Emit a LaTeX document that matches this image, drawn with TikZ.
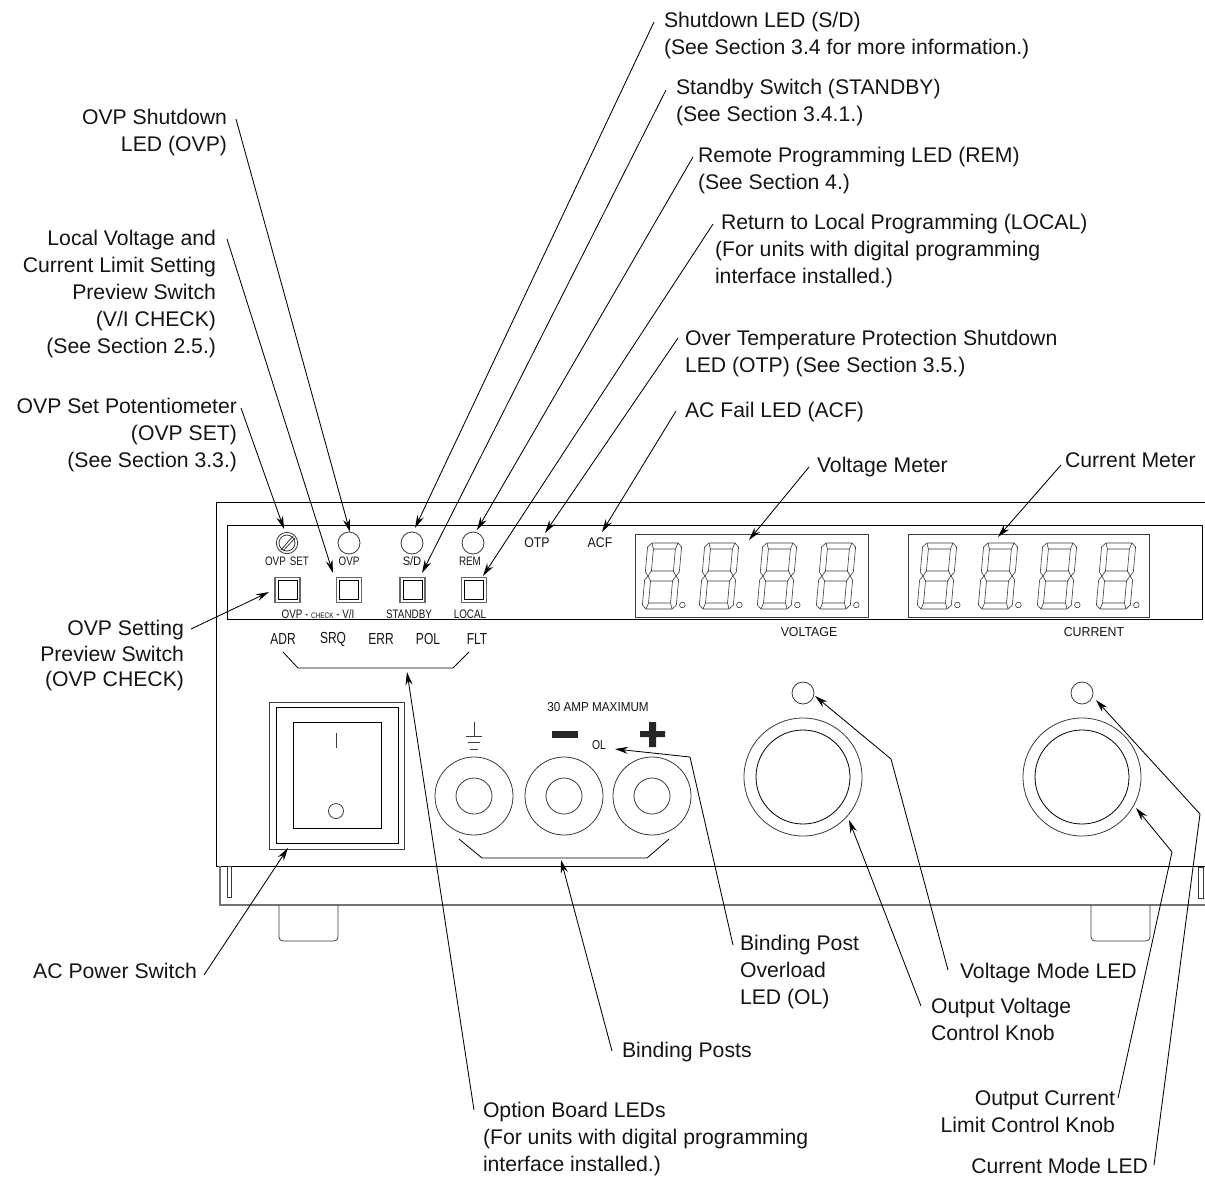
\documentclass[tikz,border=0pt]{standalone}
\usepackage{fontspec}
\usepackage{graphicx}
\setmainfont{Liberation Sans}
\usetikzlibrary{arrows.meta}
\definecolor{ink}{HTML}{151515}
\definecolor{pen}{HTML}{3A3A3A}
\newcommand{\narrowtxt}[2]{\scalebox{#1}[1]{#2}}
\tikzset{
  lab/.style={inner sep=0pt,outer sep=0pt,text=ink,font=\fontsize{21.2}{27}\selectfont},
  labl/.style={lab,anchor=north west,align=left},
  labr/.style={lab,anchor=north east,align=right},
  tiny/.style={inner sep=0pt,text=ink,font=\fontsize{12.3}{12}\selectfont},
  opt/.style={inner sep=0pt,text=ink,font=\fontsize{16}{16}\selectfont},
  part/.style={draw=pen,line width=.8pt},
  dark/.style={draw=black,line width=.8pt},
  lead/.style={draw=black,line width=.85pt},
  arrow/.style={lead,-{Stealth[length=13pt,width=7pt]}},
  ledc/.style={part,circle,minimum size=22pt,inner sep=0pt},
  seg/.style={draw=pen,line width=.6pt},
}
\newcommand{\sevenseg}[2]{%
  \begin{scope}[shift={(#1,#2)},xslant=.09]
    \draw[seg] (4,0) -- (30,0) -- (34,-4) -- (34,-29) -- (31,-33) -- (34,-37) -- (34,-62) -- (30,-66) -- (4,-66) -- (0,-62) -- (0,-37) -- (3,-33) -- (0,-29) -- (0,-4) -- cycle;
    \draw[seg] (6,-6) rectangle (28,-28);
    \draw[seg] (6,-38) rectangle (28,-60);
    \draw[seg] (4,0) -- (6,-6) (30,0) -- (28,-6) (4,-66) -- (6,-60) (30,-66) -- (28,-60);
    \draw[seg] (3,-33) -- (6,-28) (3,-33) -- (6,-38) (31,-33) -- (28,-28) (31,-33) -- (28,-38);
    \draw[seg] (40,-4) circle (2.8);
  \end{scope}}
\begin{document}
\begin{tikzpicture}[x=1pt,y=-1pt]
\useasboundingbox (0,0) rectangle (1205,1178);
% --- chassis
\draw[dark] (1205,502) -- (216,502) -- (216,866) -- (1205,866);
\draw[part,line width=1.1pt,draw=black!55] (220,866) -- (220,905) -- (1205,905);
\draw[part] (227,866) rectangle (231,897);
\draw[part] (1198,867) rectangle (1203,898);
\draw[part,rounded corners=4pt] (279,905) -- (279,941) -- (338,941) -- (338,905);
\draw[part,rounded corners=4pt] (1091,905) -- (1091,941) -- (1150,941) -- (1150,905);
\draw[dark] (227,525) rectangle (1202,619);
% --- controls in the display panel
\node[part,circle,minimum size=21.4pt,inner sep=0pt] (pot) at (287,543) {};
\node[part,circle,minimum size=16pt,inner sep=0pt] (potin) at (287,543) {};
\draw[part] (281,550) -- (293,536);
\draw[part] (283,551) -- (295,538);
\node[ledc] (ovpled) at (349,543) {};
\node[ledc] (sdled) at (412,543) {};
\node[ledc] (remled) at (473,543) {};
\foreach \n/\x in {swa/287.5,swb/349,swc/412.5,swd/474}{
  \node[draw=black!60,line width=1.5pt,minimum width=25pt,minimum height=25pt,inner sep=0pt] (\n) at (\x,590) {};
  \node[dark,draw,minimum width=19pt,minimum height=19pt,inner sep=0pt] (\n i) at (\x,590) {};
}
\node[tiny] (tovpset) at (287,561) {\narrowtxt{.8}{OVP\hspace{5pt}SET}};
\node[tiny] (tovp) at (349,561) {\narrowtxt{.8}{OVP}};
\node[tiny] (tsd) at (412,561) {\narrowtxt{.9}{S/D}};
\node[tiny] (trem) at (470,561) {\narrowtxt{.8}{REM}};
\node[tiny] (tcheck) at (318,614) {\narrowtxt{.8}{OVP - {\fontsize{8}{8}\selectfont CHECK} - V/I}};
\node[tiny] (tstandby) at (409,614) {\narrowtxt{.8}{STANDBY}};
\node[tiny] (tlocal) at (470,614) {\narrowtxt{.8}{LOCAL}};
\node[inner sep=0pt,text=ink,font=\fontsize{14}{14}\selectfont] (totp) at (537,543) {\narrowtxt{.88}{OTP}};
\node[inner sep=0pt,text=ink,font=\fontsize{14}{14}\selectfont] (tacf) at (600,543) {\narrowtxt{.88}{ACF}};
% --- meters
\draw[part] (635,534) rectangle (868,617);
\draw[part] (908,534) rectangle (1149,617);
\foreach \x in {642,699,757,816,917,978,1037,1096}{\sevenseg{\x}{609}}
\node[inner sep=0pt,text=ink,font=\fontsize{13}{13}\selectfont] (tvolt) at (809,632) {\narrowtxt{.95}{VOLTAGE}};
\node[inner sep=0pt,text=ink,font=\fontsize{13}{13}\selectfont] (tcurr) at (1094,632) {\narrowtxt{.95}{CURRENT}};
% --- option LEDs
\node[opt] (tadr) at (283,639) {\narrowtxt{.75}{ADR}};
\node[opt] (tsrq) at (333,639) {\narrowtxt{.75}{SRQ}};
\node[opt] (terr) at (381,639) {\narrowtxt{.75}{ERR}};
\node[opt] (tpol) at (428,639) {\narrowtxt{.75}{POL}};
\node[opt] (tflt) at (477,639) {\narrowtxt{.75}{FLT}};
\draw[dark] (283,652) -- (298,668) -- (453,668) -- (469,652);
% --- power switch
\draw[part] (269,702) rectangle (404,849);
\draw[dark] (276,707) rectangle (398,843);
\draw[dark] (293,722) rectangle (381,828);
\draw[part] (336,733) -- (336,748);
\node[part,circle,minimum size=15pt,inner sep=0pt] (pwro) at (336,811) {};
% --- binding posts
\foreach \n/\x in {pa/474,pb/564,pc/652}{
  \node[part,circle,minimum size=78pt,inner sep=0pt] (\n) at (\x,796) {};
  \node[part,circle,minimum size=36pt,inner sep=0pt] (\n i) at (\x,796) {};
}
\draw[part] (474,722) -- (474,736) (466,736) -- (482,736) (468,742) -- (480,742) (470,749) -- (478,749);
\fill[black!85] (552,731) rectangle (578,738);
\fill[black!85] (640,731) rectangle (665,737) (649,722) rectangle (656,747);
\node[inner sep=0pt,text=ink,font=\fontsize{13}{13}\selectfont] (tamp) at (598,707) {\narrowtxt{.9}{30 AMP MAXIMUM}};
\node[inner sep=0pt,text=ink,font=\fontsize{13}{13}\selectfont] (tol) at (599,745) {\narrowtxt{.8}{OL}};
\draw[dark] (459,839) -- (482,858) -- (647,858) -- (669,839);
% --- knobs
\foreach \n/\x in {ka/803,kb/1082}{
  \node[part,circle,minimum size=118pt,inner sep=0pt] (\n) at (\x,777) {};
  \node[dark,draw,circle,minimum size=94pt,inner sep=0pt] (\n i) at (\x,777) {};
  \node[part,circle,minimum size=22pt,inner sep=0pt] (\n l) at (\x,693) {};
}
% --- labels
\node[labl] (lsd) at (664,9) {\strut Shutdown LED (S/D)\\\strut (See Section 3.4 for more information.)};
\node[labl] (lsb) at (676,76) {\strut Standby Switch (STANDBY)\\\strut (See Section 3.4.1.)};
\node[labl] (lrem) at (698,144) {\strut Remote Programming LED (REM)\\\strut (See Section 4.)};
\node[labl] (lloc) at (715,211) {\strut\hspace*{6pt}Return to Local Programming (LOCAL)\\\strut (For units with digital programming\\\strut interface installed.)};
\node[labl] (lotp) at (685,327) {\strut Over Temperature Protection Shutdown\\\strut LED (OTP) (See Section 3.5.)};
\node[labl] (lacf) at (685,399) {\strut AC Fail LED (ACF)};
\node[labl] (lvm) at (817,454) {\strut Voltage Meter};
\node[labl] (lcm) at (1065,449) {\strut Current Meter};
\node[labr] (lovp) at (227,106) {\strut OVP Shutdown\\\strut LED (OVP)};
\node[labr] (lvi) at (216,227) {\strut Local Voltage and\\\strut Current Limit Setting\\\strut Preview Switch\\\strut (V/I CHECK)\\\strut (See Section 2.5.)};
\node[labr] (lset) at (237,395) {\strut OVP Set Potentiometer\\\strut (OVP SET)\\\strut (See Section 3.3.)};
\node[labr,font=\fontsize{21.2}{25.5}\selectfont] (lchk) at (184,618) {\strut OVP Setting\\\strut Preview Switch\\\strut (OVP CHECK)};
\node[labr] (lac) at (197,960) {\strut AC Power Switch};
\node[labl] (lbo) at (740,932) {\strut Binding Post\\\strut Overload\\\strut LED (OL)};
\node[labl] (lvmode) at (960,960) {\strut Voltage Mode LED};
\node[labl] (lokn) at (931,995) {\strut Output Voltage\\\strut Control Knob};
\node[labl] (lbp) at (622,1039) {\strut Binding Posts};
\node[labl] (lopt) at (483,1099) {\strut Option Board LEDs\\\strut (For units with digital programming\\\strut interface installed.)};
\node[labr] (lcur) at (1115,1087) {\strut Output Current\\\strut Limit Control Knob};
\node[labr] (lcmode) at (1148,1155) {\strut Current Mode LED};
% --- leader ends
\foreach \n/\p in {
  asd/{654,22},tsdl/{415,528},
  asb/{666,90},tsb/{422,573},
  arem/{693,157},trl/{477,530},
  aloc/{713,224},tloc/{483,576},
  aotp/{678,338},totl/{545,533},
  aacf/{676,411},tacl/{602,532},
  avm/{809,467},tvm/{749,540},
  acm/{1061,465},tcm/{998,537},
  aovp/{236,119},tov/{350,532},
  avi/{227,239},tvi/{333,573},
  aset/{241,408},tset/{284,529},
  achk/{191,629},tchk/{269,592},
  aac/{204,975},tac/{288,848},
  aopt/{474,1110},topt/{407,672},
  abp/{612,1051},tbp/{561,860},
  abo/{733,945},cbo/{690,757},tbo/{615,749},
  aok/{921,1006},tok/{849,820},
  avmo/{948,970},cvmo/{891,759},tvmo/{815,696},
  acur/{1118,1098},ccur/{1172,852},tcur/{1136,808},
  acmo/{1154,1165},ccmo/{1200,814},tcmo/{1096,700}%
}{\coordinate (\n) at (\p);}
\draw[arrow] (asd) -- (tsdl);
\draw[arrow] (asb) -- (tsb);
\draw[arrow] (arem) -- (trl);
\draw[arrow] (aloc) -- (tloc);
\draw[arrow] (aotp) -- (totl);
\draw[arrow] (aacf) -- (tacl);
\draw[arrow] (avm) -- (tvm);
\draw[arrow] (acm) -- (tcm);
\draw[arrow] (aovp) -- (tov);
\draw[arrow] (avi) -- (tvi);
\draw[arrow] (aset) -- (tset);
\draw[arrow] (achk) -- (tchk);
\draw[arrow] (aac) -- (tac);
\draw[arrow] (aopt) -- (topt);
\draw[arrow] (abp) -- (tbp);
\draw[arrow] (abo) -- (cbo) -- (tbo);
\draw[arrow] (aok) -- (tok);
\draw[arrow] (avmo) -- (cvmo) -- (tvmo);
\draw[arrow] (acur) -- (ccur) -- (tcur);
\draw[arrow] (acmo) -- (ccmo) -- (tcmo);
\end{tikzpicture}
\end{document}
